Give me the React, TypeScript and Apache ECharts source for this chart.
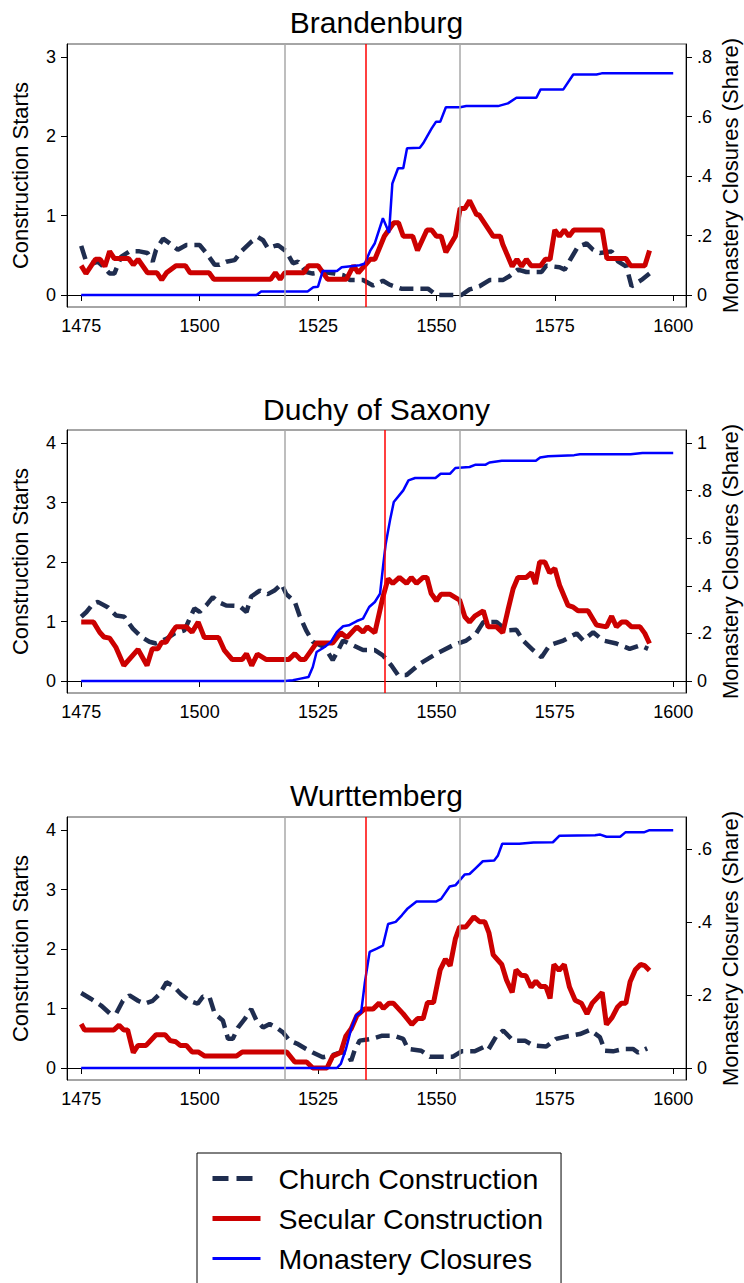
import React, { useEffect, useRef } from 'react';
import * as echarts from 'echarts';

// ---------- data (year, value) ----------
const brandChurch: [number, number][] = [
  [1475, 0.62], [1476, 0.43], [1477.5, 0.40], [1478.5, 0.42], [1479.6, 0.36], [1481, 0.27], [1482, 0.27], [1483.4, 0.48],
  [1485.2, 0.55], [1487.3, 0.55], [1489, 0.53], [1490.1, 0.42], [1490.8, 0.57], [1492.3, 0.71], [1493.7, 0.65], [1495.4, 0.57],
  [1497.2, 0.63], [1500, 0.63], [1501.4, 0.53], [1503.2, 0.38], [1504.2, 0.38], [1505.6, 0.42], [1507.4, 0.44], [1508.8, 0.55],
  [1510.9, 0.67], [1512.3, 0.73], [1513.4, 0.69], [1514.4, 0.59], [1516.5, 0.63], [1518.3, 0.55], [1519.7, 0.40], [1520.8, 0.42],
  [1522.5, 0.29], [1523.9, 0.27], [1526, 0.29], [1528.5, 0.27], [1530.3, 0.25], [1531.7, 0.19], [1534.5, 0.19], [1536.6, 0.12],
  [1538.7, 0.18], [1540.1, 0.13], [1542.6, 0.08], [1548.2, 0.08], [1550, 0], [1555.3, 0], [1557, 0.07], [1559.1, 0.11],
  [1561.3, 0.19], [1564.1, 0.19], [1565.5, 0.24], [1567.2, 0.32], [1569, 0.29], [1572.2, 0.29], [1573.2, 0.37], [1576, 0.35],
  [1577.1, 0.32], [1578.2, 0.44], [1579.9, 0.61], [1581.7, 0.65], [1583.1, 0.57], [1584.5, 0.53], [1587, 0.55], [1588.4, 0.42],
  [1590.1, 0.36], [1591.2, 0.11], [1593.3, 0.19], [1595, 0.27],
];
const brandSecular: [number, number][] = [
  [1475, 0.37], [1476, 0.27], [1478, 0.45], [1479, 0.45], [1480, 0.36], [1481, 0.55], [1482, 0.46], [1485, 0.46],
  [1486, 0.38], [1487, 0.45], [1489, 0.28], [1491, 0.28], [1492, 0.19], [1493, 0.28], [1495, 0.37], [1497, 0.37],
  [1498, 0.28], [1502, 0.28], [1503, 0.2], [1515, 0.2], [1516, 0.28], [1517, 0.2], [1518, 0.28], [1522, 0.28],
  [1523, 0.37], [1525, 0.37], [1527, 0.2], [1531, 0.2], [1532.5, 0.37], [1533.5, 0.28], [1535, 0.38], [1536, 0.45],
  [1537, 0.45], [1539, 0.74], [1541, 0.91], [1542, 0.91], [1543, 0.74], [1545, 0.74], [1546, 0.56], [1548, 0.82],
  [1549, 0.82], [1550, 0.74], [1551, 0.74], [1552, 0.54], [1554, 0.74], [1555, 1.09], [1556, 1.09], [1557, 1.19],
  [1558.5, 1.01], [1559, 1.01], [1562, 0.74], [1563.5, 0.74], [1564, 0.64], [1566, 0.36], [1567, 0.45], [1568, 0.36],
  [1569, 0.45], [1570, 0.37], [1572, 0.37], [1573, 0.45], [1574, 0.45], [1575, 0.82], [1576, 0.74], [1577, 0.82],
  [1578, 0.74], [1579, 0.82], [1585, 0.82], [1586, 0.46], [1590, 0.46], [1591, 0.37], [1594, 0.37], [1595, 0.56],
];
const brandClosures: [number, number][] = [
  [1475, 0], [1512, 0], [1513, 0.012], [1522.8, 0.012], [1524, 0.026], [1525, 0.028], [1526, 0.081], [1529, 0.081],
  [1530, 0.093], [1533.8, 0.1], [1534.9, 0.106], [1536, 0.148], [1537, 0.174], [1538.7, 0.258], [1540, 0.209], [1540.7, 0.375],
  [1541.9, 0.426], [1543, 0.426], [1543.8, 0.493], [1546.5, 0.495], [1547.2, 0.51], [1549, 0.56], [1549.9, 0.582], [1550.8, 0.582],
  [1552, 0.631], [1555, 0.631], [1556.3, 0.635], [1563, 0.635], [1565.1, 0.644], [1566.9, 0.663], [1571.1, 0.663], [1572, 0.691],
  [1576.8, 0.691], [1578.9, 0.741], [1583.8, 0.741], [1584.9, 0.745], [1600, 0.745],
];

const saxChurch: [number, number][] = [
  [1475, 1.08], [1476.1, 1.16], [1477.5, 1.30], [1478.5, 1.33], [1480.6, 1.24], [1482.4, 1.10], [1484.1, 1.08], [1485.9, 0.88],
  [1487.7, 0.74], [1489.4, 0.66], [1490.8, 0.63], [1493, 0.71], [1494.7, 0.80], [1496.8, 0.85], [1497.9, 1.05], [1498.9, 1.22],
  [1500, 1.16], [1501.4, 1.27], [1502.8, 1.41], [1503.9, 1.33], [1505.6, 1.27], [1508.4, 1.26], [1509.9, 1.16], [1510.9, 1.42],
  [1512.7, 1.52], [1514.4, 1.46], [1515.8, 1.52], [1517.3, 1.63], [1518.3, 1.46], [1520.1, 1.33], [1521.1, 1.10], [1522.5, 0.85],
  [1523.9, 0.66], [1526.4, 0.57], [1528.1, 0.35], [1529.4, 0.54], [1530.3, 0.68], [1532.4, 0.60], [1534.5, 0.52], [1537, 0.52],
  [1538.7, 0.43], [1540.5, 0.26], [1541.9, 0.10], [1543.7, 0.10], [1546.5, 0.29], [1550, 0.46], [1553.5, 0.60], [1556.3, 0.68],
  [1558.4, 0.80], [1559.9, 0.99], [1562.7, 0.99], [1564.8, 0.85], [1566.9, 0.86], [1568.3, 0.68], [1570.4, 0.52], [1572.2, 0.40],
  [1573.9, 0.60], [1576.8, 0.68], [1579.6, 0.80], [1581, 0.68], [1583.1, 0.82], [1585.2, 0.68], [1588, 0.63], [1590.8, 0.54],
  [1593, 0.60], [1594.7, 0.54],
];
const saxSecular: [number, number][] = [
  [1475, 0.99], [1477.6, 0.99], [1478.9, 0.82], [1479.8, 0.74], [1481, 0.72], [1482.3, 0.57], [1484, 0.26], [1487, 0.53],
  [1488.9, 0.26], [1490, 0.54], [1491.2, 0.54], [1492, 0.65], [1492.9, 0.65], [1494.2, 0.82], [1495, 0.91], [1497.2, 0.91],
  [1498.4, 0.82], [1499.7, 0.99], [1501, 0.73], [1504, 0.73], [1505.2, 0.52], [1506.9, 0.36], [1509, 0.36], [1509.9, 0.46],
  [1511, 0.26], [1512.2, 0.45], [1514.1, 0.36], [1518.8, 0.36], [1520.1, 0.46], [1521.3, 0.36], [1522.2, 0.36], [1524.7, 0.64],
  [1528.1, 0.64], [1529.8, 0.81], [1531.1, 0.73], [1533.2, 0.91], [1534.5, 0.82], [1535.4, 0.91], [1537, 0.81], [1538.7, 1.41],
  [1539.8, 1.72], [1540.8, 1.64], [1542.2, 1.74], [1543.7, 1.64], [1544.7, 1.74], [1545.8, 1.64], [1547.2, 1.74], [1548, 1.74],
  [1548.9, 1.47], [1550, 1.35], [1551, 1.46], [1552.8, 1.46], [1554.9, 1.36], [1556, 1.08], [1557, 0.99], [1558.1, 1.09],
  [1559.9, 1.18], [1560.9, 0.91], [1562.7, 0.91], [1564, 0.81], [1565.1, 1.19], [1566.2, 1.55], [1567.2, 1.74], [1569, 1.74],
  [1570.1, 1.82], [1570.9, 1.63], [1571.8, 2.0], [1572.9, 2.0], [1573.9, 1.82], [1575, 1.89], [1576, 1.61], [1577.8, 1.27],
  [1578.9, 1.24], [1579.9, 1.18], [1582, 1.18], [1583.8, 0.94], [1585.9, 0.91], [1587, 1.09], [1588, 0.91], [1589.1, 0.99],
  [1590.1, 0.99], [1591.2, 0.91], [1593, 0.91], [1594, 0.80], [1595, 0.63],
];
const saxClosures: [number, number][] = [
  [1475, 0], [1518, 0], [1519.7, 0.003], [1521.3, 0.01], [1523, 0.017], [1523.9, 0.059], [1524.7, 0.122], [1526.4, 0.143],
  [1527.7, 0.164], [1529, 0.206], [1530.3, 0.23], [1531.5, 0.234], [1533.2, 0.252], [1534.5, 0.262], [1535.8, 0.311], [1537, 0.332],
  [1538.1, 0.367], [1538.8, 0.493], [1539.3, 0.577], [1540.2, 0.675], [1541, 0.752], [1543, 0.801], [1544.1, 0.843], [1545.5, 0.853],
  [1549.8, 0.853], [1550.9, 0.871], [1552.9, 0.871], [1554, 0.895], [1557, 0.899], [1558.3, 0.909], [1560.4, 0.909], [1561.2, 0.918],
  [1563.8, 0.925], [1571, 0.925], [1571.9, 0.939], [1573.6, 0.944], [1579.1, 0.949], [1580.3, 0.953], [1591, 0.953], [1593.5, 0.958],
  [1600, 0.958],
];

const wurChurch: [number, number][] = [
  [1475, 1.26], [1477.1, 1.16], [1479.2, 1.05], [1481, 0.92], [1482.4, 0.92], [1483.8, 1.13], [1485.2, 1.22], [1487, 1.13],
  [1488.4, 1.08], [1490.1, 1.13], [1491.5, 1.24], [1493, 1.44], [1494.4, 1.38], [1496.1, 1.24], [1497.9, 1.13], [1499.6, 1.08],
  [1500.7, 1.20], [1502.1, 1.19], [1503.2, 0.91], [1504.9, 0.80], [1506, 0.49], [1507, 0.49], [1508.1, 0.68], [1509.5, 0.82],
  [1510.9, 0.99], [1512, 0.80], [1513.4, 0.68], [1514.8, 0.74], [1516.2, 0.68], [1517.6, 0.60], [1519, 0.46], [1520.8, 0.40],
  [1522.5, 0.32], [1523.9, 0.26], [1526, 0.18], [1528.2, 0.22], [1529.6, 0.26], [1531, 0.26], [1532, 0.12], [1532.7, 0.29],
  [1533.8, 0.46], [1536.3, 0.49], [1538.4, 0.54], [1541.2, 0.54], [1543, 0.49], [1544, 0.32], [1546.8, 0.29], [1548.6, 0.19],
  [1553.5, 0.19], [1555.3, 0.28], [1558.1, 0.28], [1559.9, 0.35], [1560.9, 0.30], [1562.7, 0.54], [1564.1, 0.63], [1566.2, 0.46],
  [1568.7, 0.46], [1570.4, 0.38], [1573.2, 0.36], [1575.3, 0.49], [1577.5, 0.53], [1580.3, 0.57], [1582.4, 0.64], [1584.5, 0.52],
  [1585.6, 0.29], [1587.3, 0.28], [1589.4, 0.32], [1591.5, 0.32], [1592.6, 0.26], [1594.5, 0.33],
];
const wurSecular: [number, number][] = [
  [1475, 0.74], [1475.7, 0.64], [1481.9, 0.64], [1483, 0.72], [1484, 0.64], [1484.8, 0.64], [1486, 0.26], [1487, 0.38],
  [1488.7, 0.38], [1490.8, 0.56], [1492.7, 0.56], [1493.8, 0.46], [1495, 0.44], [1495.9, 0.38], [1497.2, 0.38], [1498.4, 0.27],
  [1499.7, 0.27], [1501.1, 0.20], [1507.8, 0.20], [1509, 0.27], [1518.4, 0.27], [1520.1, 0.10], [1522.6, 0.10], [1523.9, 0],
  [1526.9, 0], [1528.1, 0.20], [1529.8, 0.26], [1530.9, 0.54], [1532, 0.66], [1533.2, 0.88], [1534.8, 0.99], [1536.6, 0.99],
  [1537.9, 1.09], [1538.8, 1.00], [1540, 1.09], [1540.9, 1.09], [1543, 0.91], [1544.8, 0.73], [1546, 0.83], [1547.2, 0.83],
  [1548.1, 1.10], [1549.4, 1.10], [1550.8, 1.65], [1551.9, 1.83], [1552.9, 1.72], [1554, 2.17], [1554.9, 2.37], [1556.2, 2.37],
  [1557.9, 2.54], [1559.1, 2.46], [1560.2, 2.46], [1561.1, 2.27], [1562, 1.90], [1563.8, 1.74], [1564.8, 1.48], [1566, 1.27],
  [1566.8, 1.65], [1567.9, 1.56], [1568.9, 1.55], [1570, 1.36], [1571, 1.46], [1572, 1.37], [1573.1, 1.37], [1574, 1.17],
  [1574.8, 1.74], [1575.9, 1.64], [1577, 1.74], [1578.1, 1.36], [1579.3, 1.14], [1580.6, 1.09], [1581.8, 0.91], [1582.9, 1.09],
  [1585, 1.27], [1585.9, 0.73], [1587.1, 0.85], [1588.2, 1.02], [1589.1, 1.09], [1590, 1.09], [1590.9, 1.45], [1592, 1.65],
  [1593.1, 1.74], [1594, 1.72], [1595, 1.64],
];
const wurClosures: [number, number][] = [
  [1475, 0], [1529, 0], [1529.8, 0.011], [1530.9, 0.052], [1532, 0.107], [1533.1, 0.145], [1534.1, 0.152], [1534.9, 0.235],
  [1535.9, 0.318], [1537.4, 0.327], [1538.7, 0.335], [1539.8, 0.394], [1541.4, 0.4], [1542.7, 0.418], [1543.8, 0.435], [1545.8, 0.456],
  [1550, 0.456], [1551, 0.463], [1552.8, 0.497], [1554, 0.5], [1556, 0.53], [1557, 0.531], [1558.2, 0.546], [1559.8, 0.566],
  [1562.2, 0.568], [1563, 0.582], [1563.9, 0.614], [1567.5, 0.614], [1570.5, 0.617], [1574.6, 0.618], [1576, 0.636], [1583.5, 0.637],
  [1584.6, 0.639], [1585.9, 0.633], [1588.8, 0.633], [1589.9, 0.645], [1593.8, 0.645], [1595, 0.651], [1600, 0.651],
];

const panelTitles = ['Brandenburg', 'Duchy of Saxony', 'Wurttemberg'];
const reformYears = [1535, 1539, 1535];
const grayYears = [1518, 1555];
const xTicks = [1475, 1500, 1525, 1550, 1575, 1600];
const leftTicks = [[0, 1, 2, 3], [0, 1, 2, 3, 4], [0, 1, 2, 3, 4]];
const rightTicks = [[0, 0.2, 0.4, 0.6, 0.8], [0, 0.2, 0.4, 0.6, 0.8, 1], [0, 0.2, 0.4, 0.6]];
const leftTop = [3, 4, 4];
const rightTop = [0.8, 1, 0.6515];
const seriesNames = ['Church Construction', 'Secular Construction', 'Monastery Closures'];
const churchData = [brandChurch, saxChurch, wurChurch];
const secularData = [brandSecular, saxSecular, wurSecular];
const closureData = [brandClosures, saxClosures, wurClosures];

// ---------- layout ----------
const FONT = 'Liberation Sans, Arial, Helvetica, sans-serif';
const GRID_LEFT = 67;
const GRID_W = 619;
const GRID_H = 263;
const PAD_TOP = 13;
const PAD_BOT = 12;
const SPAN = GRID_H - PAD_TOP - PAD_BOT;
const gridTops = [44, 430, 817];
const titleYs = [22, 409, 795];
const C_CHURCH = '#1f2d4f';
const C_SECULAR = '#cc0000';
const C_CLOSURE = '#0000ff';

function rightFmt(v: number) {
  if (v === 0) return '0';
  if (v === 1) return '1';
  return v.toFixed(1).replace(/^0/, '');
}

function buildOption() {
  const grid: any[] = [];
  const xAxis: any[] = [];
  const yAxis: any[] = [];
  const series: any[] = [];
  const graphic: any[] = [];

  for (let i = 0; i < 3; i++) {
    grid.push({
      left: GRID_LEFT, width: GRID_W, top: gridTops[i], height: GRID_H,
      containLabel: false, outerBoundsMode: 'none',
      show: true, borderColor: '#4d4d4d', borderWidth: 1, backgroundColor: '#fff',
    });
    xAxis.push({
      type: 'value', gridIndex: i, min: 1472, max: 1602.7,
      axisLine: { show: true, lineStyle: { color: '#000', width: 1 } },
      axisTick: { show: true, length: 6, customValues: xTicks, lineStyle: { color: '#000' } },
      axisLabel: {
        customValues: xTicks, fontSize: 18, color: '#000', margin: 10, fontFamily: FONT,
        formatter: (v: number) => String(v),
      },
      splitLine: { show: false },
    });
    const lt = leftTop[i];
    const rt = rightTop[i];
    yAxis.push({
      type: 'value', gridIndex: i, position: 'left',
      min: -lt * PAD_BOT / SPAN, max: lt + lt * PAD_TOP / SPAN,
      axisLine: { show: true, lineStyle: { color: '#000', width: 1 } },
      axisTick: { show: true, length: 6, customValues: leftTicks[i], lineStyle: { color: '#000' } },
      axisLabel: { customValues: leftTicks[i], fontSize: 18, color: '#000', margin: 11, fontFamily: FONT },
      splitLine: { show: false },
      name: 'Construction Starts', nameLocation: 'middle', nameRotate: 90, nameGap: 36,
      nameTextStyle: { fontSize: 22, color: '#000', fontFamily: FONT },
    });
    yAxis.push({
      type: 'value', gridIndex: i, position: 'right',
      min: -rt * PAD_BOT / SPAN, max: rt + rt * PAD_TOP / SPAN,
      axisLine: { show: true, lineStyle: { color: '#000', width: 1 } },
      axisTick: { show: true, length: 6, customValues: rightTicks[i], lineStyle: { color: '#000' } },
      axisLabel: { customValues: rightTicks[i], fontSize: 18, color: '#000', margin: 11, fontFamily: FONT, formatter: rightFmt },
      splitLine: { show: false },
      name: 'Monastery Closures (Share)', nameLocation: 'middle', nameRotate: 90, nameGap: 33,
      nameMoveOverlap: false,
      nameTextStyle: { fontSize: 22, color: '#000', fontFamily: FONT },
    });

    series.push({
      type: 'line', xAxisIndex: i, yAxisIndex: 2 * i, data: [], silent: true, z: 1,
      markLine: {
        silent: true, symbol: ['none', 'none'], label: { show: false },
        data: [
          ...grayYears.map((y) => ({ xAxis: y, lineStyle: { color: '#a8a8a8', width: 1.5, type: 'solid' } })),
          { xAxis: reformYears[i], lineStyle: { color: '#ff0000', width: 1.5, type: 'solid' } },
        ],
      },
    });
    series.push({
      name: seriesNames[0], type: 'line', xAxisIndex: i, yAxisIndex: 2 * i, data: churchData[i],
      symbol: 'none', showSymbol: false, z: 2,
      lineStyle: { color: C_CHURCH, width: 4.5, type: [14, 7], cap: 'butt' }, itemStyle: { color: C_CHURCH },
    });
    series.push({
      name: seriesNames[1], type: 'line', xAxisIndex: i, yAxisIndex: 2 * i, data: secularData[i],
      symbol: 'none', showSymbol: false, z: 3,
      lineStyle: { color: C_SECULAR, width: 5 }, itemStyle: { color: C_SECULAR },
    });
    series.push({
      name: seriesNames[2], type: 'line', xAxisIndex: i, yAxisIndex: 2 * i + 1, data: closureData[i],
      symbol: 'none', showSymbol: false, z: 4,
      lineStyle: { color: C_CLOSURE, width: 2.5 }, itemStyle: { color: C_CLOSURE },
    });

    graphic.push({
      type: 'text', x: GRID_LEFT + GRID_W / 2, y: titleYs[i],
      style: { text: panelTitles[i], fontSize: 30, fill: '#000', fontFamily: FONT, textAlign: 'center', textVerticalAlign: 'middle' },
    });
  }

  return {
    animation: false,
    backgroundColor: '#fff',
    textStyle: { fontFamily: FONT },
    grid, xAxis, yAxis, series, graphic,
    legend: {
      orient: 'vertical', left: 197, top: 1153, height: 200,
      data: [
        { name: seriesNames[0], lineStyle: { width: 5, type: [16, 8], color: C_CHURCH } },
        { name: seriesNames[1], lineStyle: { width: 5, color: C_SECULAR } },
        { name: seriesNames[2], lineStyle: { width: 3, color: C_CLOSURE } },
      ],
      itemStyle: { opacity: 0 },
      borderColor: '#000', borderWidth: 1, padding: [10, 18, 12, 13],
      itemWidth: 48, itemHeight: 12, itemGap: 9,
      textStyle: { fontSize: 28.5, color: '#000', fontFamily: FONT, lineHeight: 31, padding: [0, 0, 0, 13] },
    },
  };
}

export default function App() {
  const ref = useRef<HTMLDivElement>(null);
  useEffect(() => {
    const chart = echarts.init(ref.current!, null, { renderer: 'svg' });
    chart.setOption(buildOption() as any);
    return () => chart.dispose();
  }, []);
  return (
    <div
      ref={ref}
      style={{ position: 'fixed', left: 0, top: 0, width: 744, height: 1283, background: '#fff' }}
    />
  );
}
